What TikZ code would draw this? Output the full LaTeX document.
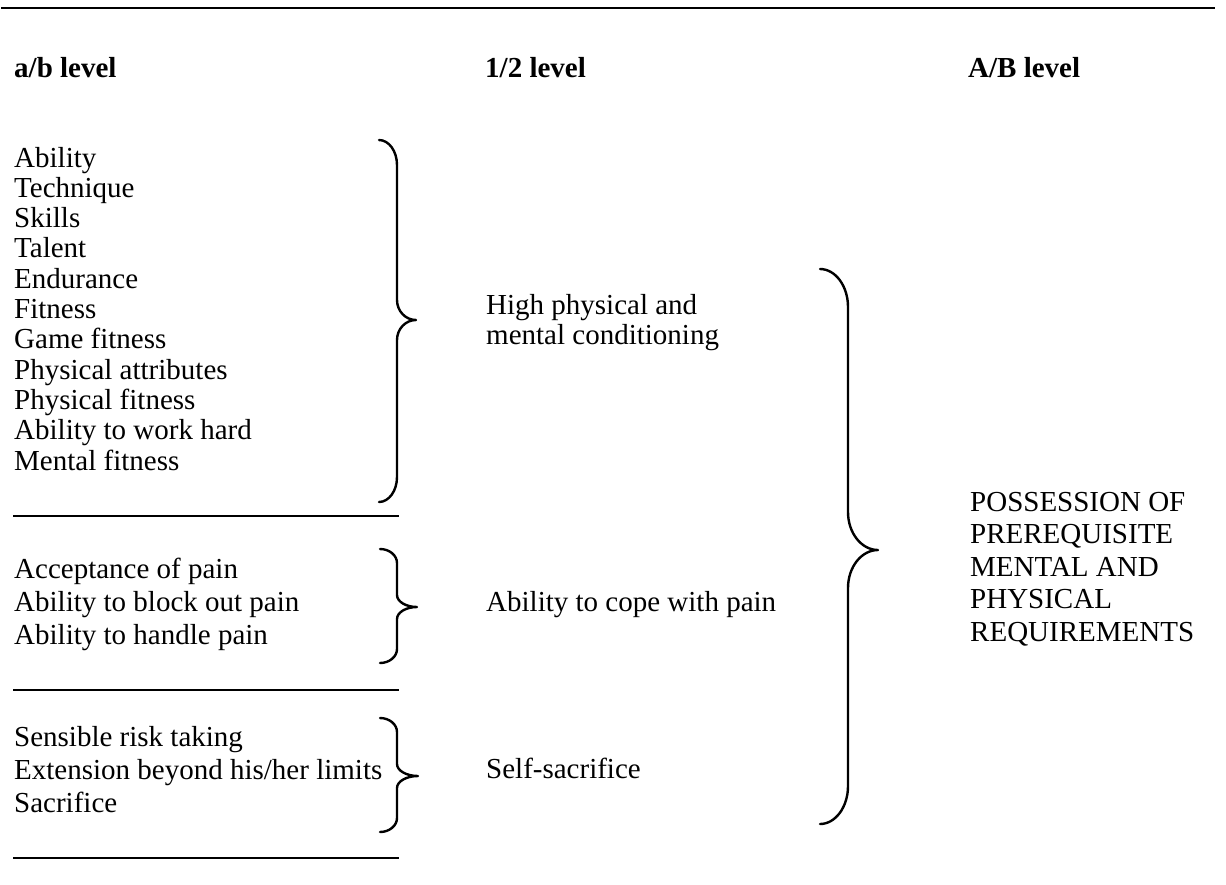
\documentclass[tikz,border=0pt]{standalone}
\usepackage{fontspec}
\setmainfont{Liberation Serif}
% curly brace drawn as one path: tip x, stem x, point x, top, middle, bottom,
% height of the end hooks, height of the middle cusp
\newcommand\curlybrace[9]{%
  \draw[brc] (#2,#5) coordinate (#1-top)
    .. controls ({#2+0.552*(#3-#2)},#5) and (#3,{#5+0.448*#8}) .. (#3,{#5+#8})
    -- (#3,{#6-#9})
    .. controls (#3,{#6-0.448*#9}) and ({#4-0.552*(#4-#3)},#6) .. (#4,#6) coordinate (#1-tip)
    .. controls ({#4-0.552*(#4-#3)},#6) and (#3,{#6+0.448*#9}) .. (#3,{#6+#9})
    -- (#3,{#7-#8})
    .. controls (#3,{#7-0.448*#8}) and ({#2+0.552*(#3-#2)},#7) .. (#2,#7) coordinate (#1-bottom);}
\begin{document}
\begin{tikzpicture}[x=1pt,y=-1pt,
  txt/.style={anchor=base west, inner sep=0pt, font=\fontsize{29}{33.5}\selectfont},
  head/.style={txt, font=\fontsize{29}{33.5}\selectfont\bfseries},
  rule/.style={line width=1.6pt},
  toprule/.style={line width=2.6pt},
  brc/.style={line width=2.4pt, line cap=round, line join=round}]
\useasboundingbox (0,0) rectangle (1226,884);

% top rule
\coordinate (tl) at (1,8);
\coordinate (tr) at (1215,8);
\draw[toprule] (tl) -- (tr);

% column headings
\node[head] (hab) at (14,77) {a/b level};
\node[head] (h12) at (485,77) {1/2 level};
\node[head] (hAB) at (968,77) {A/B level};

% a/b level, first group
\foreach \t [count=\i] in {Ability,Technique,Skills,Talent,Endurance,Fitness,
  Game fitness,Physical attributes,Physical fitness,Ability to work hard,Mental fitness}
  \node[txt] (ga\i) at (14,{167+30.3*(\i-1)}) {\t};

% a/b level, second group
\foreach \t [count=\i] in {Acceptance of pain,Ability to block out pain,Ability to handle pain}
  \node[txt] (gb\i) at (14,{578+33*(\i-1)}) {\t};

% a/b level, third group
\foreach \t [count=\i] in {Sensible risk taking,Extension beyond his/her limits,Sacrifice}
  \node[txt] (gc\i) at (14,{746+33*(\i-1)}) {\t};

% separating rules under each group
\foreach \y [count=\i] in {516,690,858} {
  \coordinate (sl\i) at (13,\y);
  \coordinate (sr\i) at (399,\y);
  \draw[rule] (sl\i) -- (sr\i);
}

% braces gathering each group
\curlybrace{ba}{379}{397}{416}{140}{320}{502}{25}{20}
\curlybrace{bb}{380}{397}{417}{549}{607}{663}{14}{12}
\curlybrace{bc}{380}{397}{418}{718}{776}{832}{14}{12}

% 1/2 level
\node[txt] (m1) at (486,314) {High physical and};
\node[txt] (m1b) at (486,344) {mental conditioning};
\node[txt] (m2) at (486,611) {Ability to cope with pain};
\node[txt] (m3) at (486,778) {Self-sacrifice};

% brace gathering the 1/2 level
\curlybrace{bd}{820}{848}{878}{269}{550}{824}{38}{38}

% A/B level
\foreach \t [count=\i] in {POSSESSION OF,PREREQUISITE,MENTAL AND,PHYSICAL,REQUIREMENTS}
  \node[txt] (r\i) at (970,{511+32.5*(\i-1)}) {\t};
\end{tikzpicture}
\end{document}
